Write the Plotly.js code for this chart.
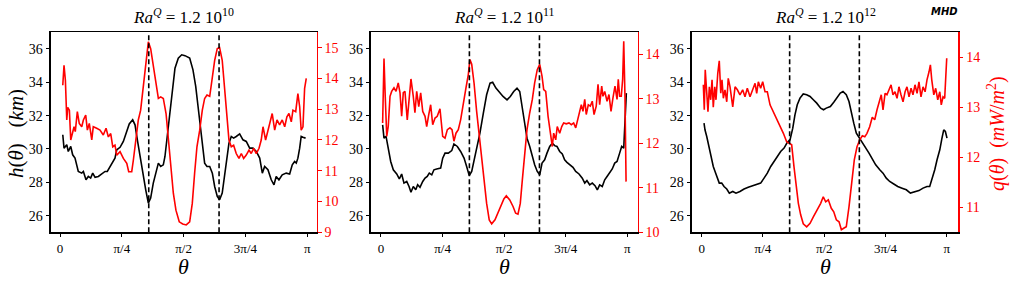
<!DOCTYPE html>
<html>
<head>
<meta charset="utf-8">
<script src="https://cdn.plot.ly/plotly-3.0.1.min.js"></script>
<style>html,body{margin:0;padding:0;background:#fff;}#chart{width:1013px;height:282px;}</style>
</head>
<body>
<div id="chart"></div>
<script>
// theta in degrees (0..180 = 0..pi)
const tickVals = [0, 45, 90, 135, 180];
const tickText = ["0", "π/4", "π/2", "3π/4", "π"];
const tangentCylinder = [64.6, 115.8];
const titles = ["1.2 10<sup>10</sup>", "1.2 10<sup>11</sup>", "1.2 10<sup>12</sup>"];

// Panel 1: Ra^Q = 1.2e10
const thH1 = [2.0,2.9,4.9,6.0,7.8,9.2,10.9,13.3,15.8,17.0,18.9,20.6,22.3,23.8,25.5,27.9,30.4,32.8,34.4,36.4,38.4,40.0,41.3,43.7,46.1,48.6,50.4,52.9,54.6,56.3,58.2,60.2,62.4,64.3,66.0,67.9,69.9,71.6,73.3,75.2,76.4,78.1,80.1,82.0,83.7,86.1,88.6,91.0,94.4,96.8,98.8,100.5,102.1,103.6,105.3,107.0,109.0,110.9,112.6,114.5,116.2,118.1,119.9,121.6,123.0,124.7,126.4,128.3,130.8,133.2,135.6,138.1,140.5,142.9,145.4,147.3,149.0,151.4,153.8,155.8,157.4,159.4,161.8,164.7,167.2,169.1,170.8,172.0,173.2,174.5,175.6,176.9,178.8];
const h1 = [30.85,30.05,30.25,29.85,30.15,29.65,29.45,28.65,28.55,28.65,28.15,28.35,28.25,28.55,28.3,28.35,28.5,28.65,28.65,28.95,29.25,29.45,29.95,30.1,30.45,31.05,31.5,31.75,31.45,30.55,29.55,28.55,27.55,26.75,27.05,27.95,28.65,29.15,28.95,29.05,29.55,30.75,32.35,33.75,34.85,35.45,35.65,35.6,35.45,34.75,33.75,32.55,31.35,30.15,29.15,28.95,28.95,28.55,27.75,27.15,26.95,27.35,28.35,29.35,30.35,30.75,30.65,30.75,30.9,30.55,30.45,30.05,30.05,29.85,29.45,28.55,28.95,28.75,28.15,27.85,28.35,28.15,28.45,28.55,28.5,29.05,29.25,29.15,29.45,30.05,30.75,30.7,30.65];
const thQ1 = [2.0,2.9,3.9,4.9,5.6,6.8,7.8,9.2,10.2,11.1,12.6,14.0,15.8,17.0,18.7,19.9,21.3,23.1,24.2,26.7,29.1,31.5,33.5,35.2,36.9,38.4,40.0,41.3,43.7,46.1,48.6,50.0,52.2,53.4,55.3,57.0,58.7,60.6,62.6,64.3,66.0,67.9,69.9,71.6,73.3,75.2,77.2,78.8,80.6,82.5,84.4,86.8,89.3,91.9,94.4,96.3,98.0,99.7,101.7,103.6,105.3,107.0,109.0,110.9,112.6,114.5,116.2,118.1,119.9,121.6,123.0,124.7,126.4,128.3,130.3,132.0,133.7,135.6,137.6,139.2,141.0,142.9,144.9,146.5,147.8,149.7,151.4,153.1,154.5,156.3,158.0,159.9,161.8,163.6,165.2,166.7,168.4,169.6,171.6,173.2,174.5,175.6,176.9,178.1,179.3];
const q1 = [13.78,14.43,13.94,12.65,13.06,12.97,12.0,12.32,12.43,12.27,12.92,12.54,12.43,12.65,12.81,12.32,12.54,12.0,12.43,12.38,12.32,12.16,12.38,12.1,12.21,11.78,11.83,11.51,11.62,11.4,11.24,10.97,10.97,11.35,12.1,12.65,12.97,13.73,14.59,15.19,14.97,14.38,13.73,13.35,13.4,13.35,12.86,12.0,11.02,10.27,9.72,9.34,9.27,9.24,9.34,9.94,10.92,11.78,12.32,12.97,13.35,13.46,13.42,14.0,14.59,14.97,15.0,14.59,13.73,12.75,12.0,11.78,11.83,11.56,11.4,11.56,11.4,11.51,11.67,11.56,11.73,11.56,11.73,12.0,12.43,12.0,12.32,12.65,12.86,12.32,12.65,12.49,12.65,12.43,12.75,12.86,12.59,12.97,12.92,13.51,13.08,12.32,12.43,13.68,14.0];

// Panel 2: Ra^Q = 1.2e11
const thH2 = [1.2,2.2,3.7,5.3,7.1,9.0,11.5,13.4,15.1,16.8,18.8,20.5,21.9,23.6,25.4,26.8,28.5,30.5,32.2,33.8,35.3,37.1,38.7,40.7,43.6,45.1,46.8,49.2,51.7,53.3,55.8,58.2,60.7,62.6,64.5,66.3,68.0,69.9,72.3,74.8,77.2,79.7,81.6,84.0,87.0,89.2,92.1,94.5,97.0,99.4,101.4,103.3,105.0,106.7,108.7,110.6,112.3,114.2,116.0,117.7,119.6,121.3,123.3,125.2,126.9,128.6,130.6,132.5,134.2,135.9,137.9,140.3,142.3,144.7,147.1,148.9,150.5,152.5,154.4,156.4,158.1,159.8,161.7,163.5,165.2,167.1,169.0,170.8,172.5,174.4,175.9,177.4,178.3,179.3];
const h2 = [31.45,30.65,30.75,29.95,29.25,28.75,28.5,28.2,28.5,27.95,28.05,27.75,27.4,27.75,27.55,27.85,27.7,28.05,28.25,28.35,28.55,28.45,28.75,28.8,28.85,29.45,29.75,29.75,29.9,30.3,30.15,29.85,29.45,28.95,28.4,28.65,29.25,29.95,30.95,32.15,33.25,33.95,34.0,33.65,33.35,33.15,32.95,33.15,33.45,33.65,33.45,32.35,31.35,30.65,30.15,29.55,29.05,28.65,28.45,29.15,29.35,29.75,30.15,30.35,30.2,30.15,29.85,29.7,29.35,29.2,29.05,28.9,28.65,28.5,28.25,27.95,28.1,27.85,27.95,27.8,27.55,27.85,27.75,28.15,28.35,28.6,28.8,29.15,29.25,29.75,30.15,30.05,31.35,33.35];
const thQ2 = [1.2,2.2,3.1,4.2,5.3,6.6,7.8,9.5,11.0,12.6,13.9,15.1,16.3,17.5,19.2,20.7,21.9,23.6,24.8,26.1,27.6,29.0,30.5,32.2,33.4,34.9,36.3,37.8,39.5,41.1,43.1,45.1,46.8,48.5,50.4,51.9,53.3,54.8,56.5,58.2,60.1,62.1,63.8,65.0,66.3,68.0,69.9,72.3,74.8,77.2,79.1,80.9,83.3,85.7,88.2,89.8,91.6,94.1,96.5,98.4,100.1,101.8,103.3,105.0,106.7,108.7,110.6,112.3,114.2,116.0,117.7,118.9,120.4,122.1,123.7,125.2,126.2,127.7,128.8,130.6,132.1,133.5,135.4,137.4,139.1,140.8,142.3,144.0,145.2,146.4,147.6,148.9,150.0,151.5,153.0,154.4,155.7,157.3,158.6,159.8,161.3,162.2,163.5,165.2,166.6,168.1,169.5,171.0,172.5,173.4,174.4,175.6,176.6,177.4,178.3,179.1];
const q2 = [12.46,13.91,13.06,12.16,12.38,13.06,13.17,13.25,13.17,13.36,13.14,12.61,13.14,13.17,12.53,13.06,13.45,13.06,12.69,13.17,12.83,13.14,12.72,12.61,12.38,12.65,12.87,12.42,12.57,12.61,12.78,12.16,12.12,12.31,12.35,12.31,12.05,12.23,12.31,12.53,12.84,13.25,13.55,13.89,13.78,13.36,12.72,12.01,11.33,10.65,10.28,10.19,10.28,10.44,10.62,10.75,10.82,10.73,10.58,10.43,10.41,10.65,11.18,11.78,12.31,12.69,12.99,13.36,13.66,13.78,13.51,13.21,13.17,12.61,12.31,11.93,12.23,12.08,12.38,12.23,12.38,12.46,12.44,12.46,12.42,12.46,12.35,12.57,12.76,12.87,12.72,12.99,12.65,12.87,12.84,12.95,12.65,12.84,13.33,12.87,13.29,13.06,13.17,12.95,13.1,12.72,13.02,13.29,12.99,13.44,13.06,13.06,13.44,14.3,13.06,11.14];

// Panel 3: Ra^Q = 1.2e12
const thH3 = [1.7,2.4,3.7,4.8,6.1,7.3,8.5,9.8,11.0,12.9,14.7,16.4,18.4,20.3,22.8,25.2,28.1,31.1,34.2,37.5,40.4,43.3,45.8,48.2,50.7,53.1,55.5,58.0,60.5,62.9,64.9,66.9,68.5,70.2,72.2,74.6,77.1,79.6,82.0,84.5,87.4,89.5,91.5,94.5,97.0,99.4,101.8,103.8,106.2,108.2,109.9,111.7,113.6,115.6,118.0,120.5,122.9,125.3,127.8,130.8,133.2,135.6,138.1,141.1,144.0,147.2,150.3,153.3,156.5,159.6,162.6,165.5,167.5,169.4,171.2,172.9,174.9,176.5,177.8,179.0,180.2];
const h3 = [31.55,31.15,30.75,30.35,29.75,29.35,28.95,28.65,28.35,27.95,27.95,27.75,27.6,27.35,27.45,27.35,27.45,27.6,27.7,27.8,27.9,27.95,28.25,28.55,28.95,29.25,29.55,29.85,30.05,30.4,30.55,31.25,32.05,32.65,33.05,33.3,33.25,33.15,32.95,32.75,32.45,32.35,32.45,32.55,32.8,33.05,33.35,33.45,33.25,32.85,32.15,31.55,30.95,30.7,30.35,30.05,29.75,29.4,29.05,28.75,28.55,28.25,28.05,27.9,27.75,27.65,27.55,27.35,27.45,27.5,27.65,27.75,27.75,28.25,28.75,29.35,29.95,30.65,31.15,31.05,30.65];
const thQ3 = [1.2,1.9,2.6,3.7,4.6,5.6,6.6,7.6,8.5,9.6,10.5,11.8,12.9,14.0,14.9,15.9,17.1,18.4,19.5,20.8,22.8,24.5,26.2,28.1,30.1,31.8,33.5,35.5,37.5,39.2,40.4,41.6,43.3,44.8,46.5,48.2,50.2,52.6,55.1,57.5,60.0,62.4,64.9,66.1,67.8,69.3,71.0,72.7,74.6,77.1,79.6,82.0,84.0,85.7,87.4,89.3,91.1,93.0,95.2,97.0,98.9,100.9,102.6,104.3,106.2,108.2,110.2,112.1,114.1,116.1,118.0,119.8,121.4,123.4,125.3,127.1,128.8,130.3,131.9,133.2,134.7,136.1,137.6,139.1,140.5,142.0,143.5,144.9,146.4,147.9,149.4,150.8,152.3,153.8,155.2,156.7,158.2,159.6,161.1,162.6,164.1,165.5,167.0,168.0,169.0,170.5,171.9,173.4,174.9,176.0,177.3,178.5,179.3,180.0];
const q3 = [13.45,12.95,13.75,13.21,12.91,13.41,13.15,13.55,13.0,13.41,13.15,13.68,13.93,13.28,13.55,13.18,13.35,13.11,13.58,13.41,13.01,13.41,13.35,13.25,13.35,13.21,13.38,13.21,13.35,13.48,13.28,13.51,13.38,13.51,13.31,13.31,13.05,12.91,12.78,12.61,12.48,12.31,12.28,12.25,11.81,11.41,11.08,10.85,10.67,10.61,10.68,10.81,10.91,10.98,11.08,11.21,11.11,11.15,10.98,10.91,10.75,10.71,10.55,10.58,10.61,11.01,11.55,11.95,12.21,12.35,12.43,12.41,12.48,12.61,12.8,12.75,12.95,13.08,13.25,12.95,13.28,13.25,13.35,13.45,13.25,13.31,13.18,13.41,13.25,13.11,13.31,13.41,13.21,13.38,13.25,13.45,13.28,13.51,13.21,13.41,13.31,13.55,13.71,13.85,13.55,13.25,13.38,13.15,13.31,13.05,13.21,13.18,13.61,13.98];

const hRange = [25, 37];
const hTicks = [26, 28, 30, 32, 34, 36];
const qRanges = [[9, 15.5], [10, 14.5], [10.5, 14.5]];
const qTicks = [[9,10,11,12,13,14,15], [10,11,12,13,14], [11,12,13,14]];

const panels = [
  {th: thH1, h: h1, tq: thQ1, q: q1},
  {th: thH2, h: h2, tq: thQ2, q: q2},
  {th: thH3, h: h3, tq: thQ3, q: q3}
];

const W = 1013, H = 282;
const xdom = [[50.7, 316.7], [371, 637.7], [691.7, 958.3]];
const xr = [[-6.8, 186.9], [-7.3, 187.6], [-7.35, 188.5]];
const yTop = 32.3, yBot = 232.3;
const ydom = [1 - yBot / H, 1 - yTop / H];
const serif = "Liberation Serif, Times New Roman, serif";

const data = [];
const layout = {
  width: W, height: H,
  margin: {l: 0, r: 0, t: 0, b: 0},
  paper_bgcolor: "#fff", plot_bgcolor: "#fff",
  showlegend: false,
  shapes: [], annotations: []
};

panels.forEach((p, i) => {
  const xn = i === 0 ? "" : String(i + 1);
  const yl = 2 * i + 1, yr = 2 * i + 2;
  const ylName = yl === 1 ? "" : String(yl);
  const yrName = String(yr);
  data.push({x: p.th, y: p.h, xaxis: "x" + xn, yaxis: "y" + ylName, type: "scatter", mode: "lines",
    line: {color: "#000", width: 1.6}, hoverinfo: "skip"});
  data.push({x: p.tq, y: p.q, xaxis: "x" + xn, yaxis: "y" + yrName, type: "scatter", mode: "lines",
    line: {color: "#ff0000", width: 1.6}, hoverinfo: "skip"});

  layout["xaxis" + xn] = {
    domain: [xdom[i][0] / W, xdom[i][1] / W], range: xr[i], anchor: "y" + ylName,
    tickvals: tickVals, ticktext: tickText, ticks: "outside", ticklen: 3.5, tickwidth: 1,
    tickcolor: "#000", showgrid: false, zeroline: false,
    showline: true, linecolor: "#000", linewidth: 1.6, mirror: true,
    tickfont: {family: serif, size: 13, color: "#000"}
  };
  layout["yaxis" + ylName] = {
    domain: ydom, range: hRange, anchor: "x" + xn, tickvals: hTicks,
    ticks: "outside", ticklen: 3.5, tickwidth: 1, tickcolor: "#000",
    showgrid: false, zeroline: false, showline: true, linecolor: "#000", linewidth: 1.6,
    tickfont: {family: serif, size: 14, color: "#000"}
  };
  layout["yaxis" + yrName] = {
    domain: ydom, range: qRanges[i], anchor: "x" + xn, overlaying: "y" + ylName, side: "right",
    tickvals: qTicks[i], ticks: "outside", ticklen: 3.5, tickwidth: 1, tickcolor: "#ff0000",
    showgrid: false, zeroline: false, showline: true, linecolor: "#ff0000", linewidth: 1.6,
    tickfont: {family: serif, size: 14, color: "#ff0000"}
  };

  tangentCylinder.forEach(t => {
    layout.shapes.push({type: "line", xref: "x" + xn, yref: "y" + ylName + " domain",
      x0: t, x1: t, y0: 0, y1: 1, layer: "above",
      line: {color: "#000", width: 1.6, dash: "5px,3px"}});
  });

  const cx = (xdom[i][0] + xdom[i][1]) / 2 / W;
  layout.annotations.push({xref: "paper", yref: "paper", x: cx, y: 1 - 16 / H,
    xanchor: "center", yanchor: "middle", showarrow: false,
    text: "<i>Ra</i><sup><i>Q</i></sup> = " + titles[i],
    font: {family: serif, size: 17, color: "#000"}});
  layout.annotations.push({xref: "paper", yref: "paper", x: cx, y: 1 - 266 / H,
    xanchor: "center", yanchor: "middle", showarrow: false,
    text: "<i>θ</i>", font: {family: serif, size: 22, color: "#000"}});
});

layout.annotations.push({xref: "paper", yref: "paper", x: 16 / W, y: 1 - 134 / H,
  xanchor: "center", yanchor: "middle", showarrow: false, textangle: -90,
  text: "<i>h</i>(<i>θ</i>)   (<i>km</i>)", font: {family: serif, size: 21, color: "#000"}});
layout.annotations.push({xref: "paper", yref: "paper", x: 996 / W, y: 1 - 134 / H,
  xanchor: "center", yanchor: "middle", showarrow: false, textangle: -90,
  text: "<i>q</i>(<i>θ</i>)  (<i>mW</i>/<i>m</i><sup>2</sup>)", font: {family: serif, size: 20, color: "#ff0000"}});
layout.annotations.push({xref: "paper", yref: "paper", x: 944 / W, y: 1 - 12 / H,
  xanchor: "center", yanchor: "middle", showarrow: false,
  text: "<b><i>MHD</i></b>", font: {family: "DejaVu Sans, sans-serif", size: 10, color: "#000"}});

Plotly.newPlot("chart", data, layout, {staticPlot: true, displayModeBar: false});
</script>
</body>
</html>
